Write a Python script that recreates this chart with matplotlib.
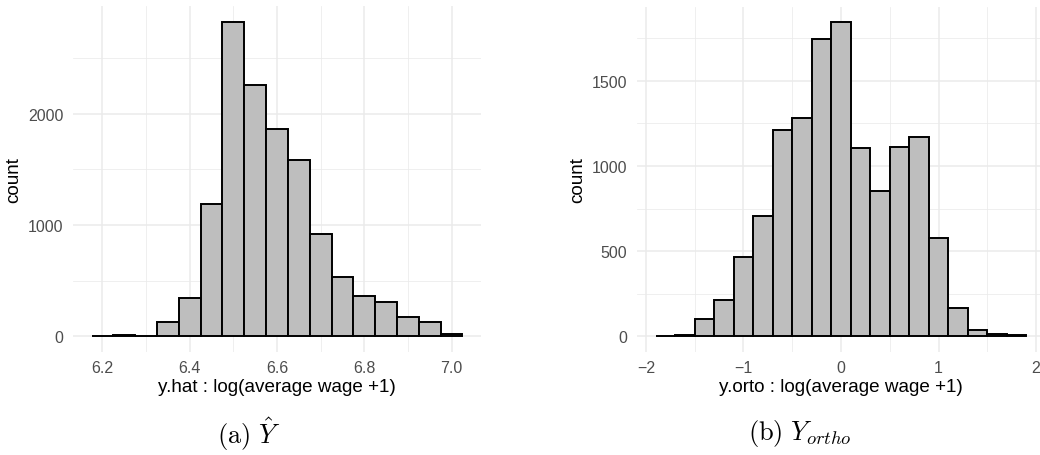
import numpy as np
import matplotlib
matplotlib.use("Agg")
import matplotlib.pyplot as plt

plt.rcParams['font.family'] = ['Liberation Sans', 'DejaVu Sans']
plt.rcParams['mathtext.fontset'] = 'cm'

# Left panel: y.hat histogram (bin centers, counts)
yhat_centers = [6.20, 6.25, 6.30, 6.35, 6.40, 6.45, 6.50, 6.55, 6.60,
                6.65, 6.70, 6.75, 6.80, 6.85, 6.90, 6.95, 7.00]
yhat_counts = [5, 8, 0, 132, 344, 1192, 2823, 2257, 1862,
               1587, 916, 536, 362, 311, 177, 132, 20]
yhat_binwidth = 0.05

# Right panel: y.orto histogram
yorto_centers = [-1.8, -1.6, -1.4, -1.2, -1.0, -0.8, -0.6, -0.4, -0.2, 0.0,
                 0.2, 0.4, 0.6, 0.8, 1.0, 1.2, 1.4, 1.6, 1.8]
yorto_counts = [3, 5, 100, 215, 468, 708, 1211, 1282, 1746, 1843,
                1104, 851, 1112, 1170, 575, 164, 37, 16, 6]
yorto_binwidth = 0.2

left_xticks = [6.2, 6.4, 6.6, 6.8, 7.0]
left_xtick_labels = ["6.2", "6.4", "6.6", "6.8", "7.0"]
left_yticks = [0, 1000, 2000]
right_xticks = [-2, -1, 0, 1, 2]
right_xtick_labels = ["\u22122", "\u22121", "0", "1", "2"]
right_yticks = [0, 500, 1000, 1500]

W, H = 1040, 456
fig = plt.figure(figsize=(W / 100, H / 100), dpi=100)

def px_axes(x0, y0, x1, y1):
    return fig.add_axes([x0 / W, 1 - y1 / H, (x1 - x0) / W, (y1 - y0) / H])

grid_c = '#ebebeb'

def style(ax, centers, counts, bw, xticks, xlabels, yticks, xminor, yminor, xlabel):
    ax.bar(centers, counts, width=bw, color='#bebebe', edgecolor='black',
           linewidth=1.4, zorder=3)
    edges_lo = min(centers) - bw / 2
    edges_hi = max(centers) + bw / 2
    r = edges_hi - edges_lo
    ax.set_xlim(edges_lo - 0.05 * r, edges_hi + 0.05 * r)
    m = max(counts)
    ax.set_ylim(-0.05 * m, 1.05 * m)
    ax.set_xticks(xticks)
    ax.set_xticklabels(xlabels)
    ax.set_yticks(yticks)
    ax.set_xticks(xminor, minor=True)
    ax.set_yticks(yminor, minor=True)
    ax.grid(True, which='major', color=grid_c, linewidth=1.1, zorder=0)
    ax.grid(True, which='minor', color=grid_c, linewidth=0.55, zorder=0)
    for s in ax.spines.values():
        s.set_visible(False)
    ax.tick_params(which='both', length=0, labelsize=11.5, labelcolor='#4d4d4d')
    ax.tick_params(axis='x', pad=6)
    ax.tick_params(axis='y', pad=7)
    ax.set_xlabel(xlabel, fontsize=13.6, labelpad=2)
    ax.set_ylabel('count', fontsize=13.6, labelpad=4)
    ax.set_axisbelow(True)

ax1 = px_axes(73, 7.4, 481, 353)
style(ax1, yhat_centers, yhat_counts, yhat_binwidth, left_xticks, left_xtick_labels,
      left_yticks, [6.3, 6.5, 6.7, 6.9], [500, 1500, 2500],
      'y.hat : log(average wage +1)')

ax2 = px_axes(637.2, 7.7, 1044.8, 353)
style(ax2, yorto_centers, yorto_counts, yorto_binwidth, right_xticks, right_xtick_labels,
      right_yticks, [-1.5, -0.5, 0.5, 1.5], [250, 750, 1250, 1750],
      'y.orto : log(average wage +1)')

fig.text(249 / W, 1 - 434 / H, r'$\mathrm{(a)}\ \hat{Y}$', ha='center', va='center',
         fontsize=19)
fig.text(800 / W, 1 - 434 / H, r'$\mathrm{(b)}\ Y_{ortho}$', ha='center', va='center',
         fontsize=19)

fig.savefig('out.png', dpi=100)
